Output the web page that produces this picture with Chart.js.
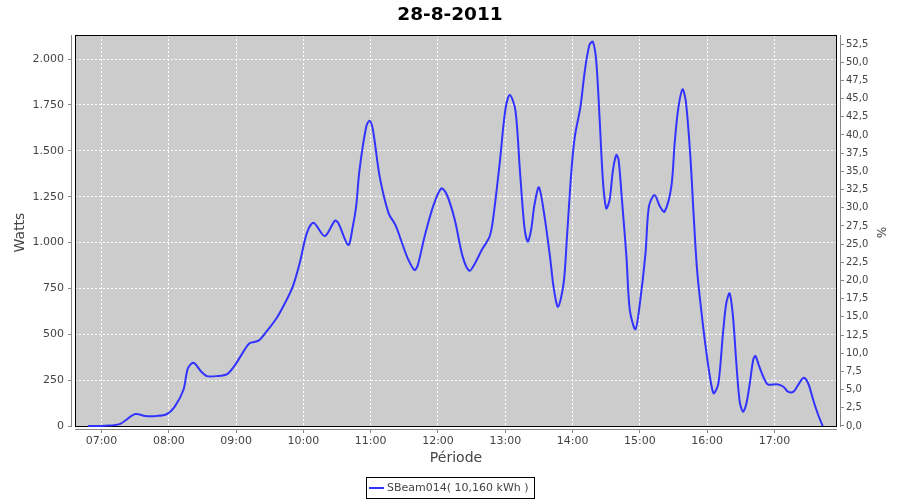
<!DOCTYPE html>
<html>
<head>
<meta charset="utf-8">
<script src="https://cdn.jsdelivr.net/npm/chart.js@4.4.0/dist/chart.umd.min.js"></script>
<style>
  html, body { margin: 0; padding: 0; background: #fff; }
  canvas { display: block; }
</style>
</head>
<body>
<canvas id="grafico" width="900" height="500"></canvas>
<script>
const titulo = '28-8-2011';
const serie = 'SBeam014( 10,160 kWh )';

// hora de la muestra y potencia en W
const horas = [
  '06:48', '07:03', '07:16', '07:30', '07:39', '07:49', '07:58', '08:05', '08:13', '08:17',
  '08:22', '08:29', '08:34', '08:43', '08:52', '08:59', '09:06', '09:12', '09:20', '09:27',
  '09:36', '09:45', '09:51', '09:57', '10:03', '10:09', '10:19', '10:28', '10:31', '10:40',
  '10:44', '10:47', '10:50', '10:56', '10:59', '11:02', '11:08', '11:16', '11:22', '11:28',
  '11:33', '11:39', '11:42', '11:48', '11:56', '12:03', '12:08', '12:15', '12:22', '12:28',
  '12:33', '12:39', '12:46', '12:49', '12:55', '13:00', '13:04', '13:09', '13:13', '13:17',
  '13:20', '13:23', '13:26', '13:30', '13:35', '13:40', '13:43', '13:47', '13:52', '13:55',
  '13:59', '14:02', '14:07', '14:11', '14:15', '14:18', '14:21', '14:24', '14:27', '14:30',
  '14:33', '14:36', '14:39', '14:41', '14:44', '14:48', '14:51', '14:56', '15:00', '15:05',
  '15:08', '15:13', '15:18', '15:22', '15:28', '15:31', '15:34', '15:38', '15:41', '15:45',
  '15:48', '15:51', '15:55', '16:00', '16:04', '16:06', '16:10', '16:14', '16:17', '16:20',
  '16:23', '16:26', '16:29', '16:32', '16:35', '16:38', '16:41', '16:43', '16:46', '16:50',
  '16:54', '17:02', '17:08', '17:12', '17:17', '17:21', '17:26', '17:30', '17:35', '17:39',
  '17:43'
];
const watts = [
  0, 2, 10, 65, 55, 55, 64, 103, 196, 314,
  345, 296, 272, 272, 283, 332, 400, 451, 465, 514,
  587, 687, 768, 895, 1050, 1108, 1035, 1119, 1108, 986,
  1086, 1195, 1395, 1631, 1664, 1613, 1359, 1159, 1096, 996,
  914, 850, 877, 1032, 1204, 1295, 1259, 1123, 923, 846,
  887, 959, 1032, 1123, 1432, 1722, 1804, 1722, 1395, 1086,
  1005, 1068, 1205, 1301, 1141, 915, 759, 650, 778, 1032,
  1395, 1577, 1740, 1940, 2076, 2095, 1995, 1686, 1341, 1186,
  1232, 1395, 1477, 1450, 1232, 923, 632, 527, 669, 941,
  1195, 1259, 1195, 1168, 1304, 1541, 1722, 1835, 1768, 1468,
  1141, 850, 614, 369, 214, 178, 233, 500, 669, 723,
  596, 342, 132, 78, 124, 233, 360, 382, 332, 269,
  227, 227, 214, 187, 187, 223, 263, 233, 132, 60,
  0
];

const aMinutos = t => { const [h, m] = t.split(':').map(Number); return h * 60 + m; };
const dos = n => String(n).padStart(2, '0');

const fuente = 'DejaVu Sans';
const gris = '#444444';
const lineaEje = '#888888';

const fondoPlot = {
  id: 'fondoPlot',
  beforeDraw(chart) {
    const {ctx, chartArea: a, scales} = chart;
    const abajo = Math.round(scales.y.getPixelForValue(0));
    ctx.save();
    ctx.fillStyle = '#ffffff';
    ctx.fillRect(0, 0, chart.width, chart.height);
    ctx.fillStyle = '#cccccc';
    ctx.fillRect(a.left + 4, a.top, a.right - a.left - 8, abajo - a.top);
    ctx.restore();
  },
  beforeDatasetsDraw(chart) {
    const {ctx, chartArea: a, scales} = chart;
    const abajo = Math.round(scales.y.getPixelForValue(0));
    ctx.save();
    ctx.lineWidth = 1;
    ctx.strokeStyle = '#000000';
    ctx.strokeRect(a.left + 4.5, a.top + 0.5, a.right - a.left - 9, abajo - a.top);
    ctx.strokeStyle = lineaEje;
    ctx.beginPath();
    ctx.moveTo(a.left + 0.5, a.top);
    ctx.lineTo(a.left + 0.5, abajo + 1);
    ctx.moveTo(a.right - 0.5, a.top);
    ctx.lineTo(a.right - 0.5, abajo + 1);
    ctx.moveTo(a.left + 4, a.bottom - 0.5);
    ctx.lineTo(a.right - 4, a.bottom - 0.5);
    ctx.stroke();
    ctx.restore();
  },
  afterDraw(chart) {
    const {ctx} = chart;
    const ds = chart.data.datasets[0];
    ctx.save();
    ctx.font = '11px "' + fuente + '"';
    const tw = ctx.measureText(ds.label).width;
    const w = Math.round(tw + 26);
    const x0 = Math.round(450 - w / 2) + 0.5;
    ctx.strokeStyle = '#000000';
    ctx.lineWidth = 1;
    ctx.strokeRect(x0, 477.5, w, 21);
    ctx.strokeStyle = ds.borderColor;
    ctx.lineWidth = 2;
    ctx.beginPath();
    ctx.moveTo(x0 + 2.5, 488);
    ctx.lineTo(x0 + 17.5, 488);
    ctx.stroke();
    ctx.fillStyle = gris;
    ctx.textBaseline = 'middle';
    ctx.fillText(ds.label, x0 + 20.5, 488.5);
    ctx.restore();
  }
};

const datos = horas.map((h, i) => ({x: aMinutos(h), y: watts[i]}));

new Chart(document.getElementById('grafico'), {
  type: 'line',
  data: {
    datasets: [{
      label: serie,
      data: datos,
      borderColor: '#3333ff',
      borderWidth: 2,
      pointRadius: 0,
      tension: 0.3,
      fill: false,
      yAxisID: 'y'
    }]
  },
  options: {
    responsive: false,
    animation: false,
    layout: { padding: { left: 0, right: 0, top: 0, bottom: 30 } },
    plugins: {
      legend: { display: false },
      tooltip: { enabled: false },
      title: {
        display: true,
        text: titulo,
        color: '#000000',
        font: { family: fuente, size: 18.5, weight: 'bold' },
        padding: { top: 4, bottom: 8.8 }
      }
    },
    scales: {
      x: {
        type: 'linear',
        min: 392.8,
        max: 1079.3,
        afterFit: s => { s.height = 40; },
        grid: { color: '#ffffff', tickColor: lineaEje, tickLength: 3 },
        border: { display: false, dash: [2, 2] },
        ticks: {
          stepSize: 60,
          includeBounds: false,
          autoSkip: false,
          maxRotation: 0,
          padding: 2,
          color: gris,
          font: { family: fuente, size: 11 },
          callback: v => dos(Math.floor(v / 60)) + ':' + dos(v % 60)
        },
        title: {
          display: true,
          text: 'Période',
          color: gris,
          font: { family: fuente, size: 14 },
          padding: { top: 0, bottom: 3.6 }
        }
      },
      y: {
        position: 'left',
        min: -21.8,
        max: 2131,
        afterFit: s => { s.width = 71; },
        grid: { color: '#ffffff', tickColor: lineaEje, tickLength: 3 },
        border: { display: false, dash: [2, 2] },
        ticks: {
          stepSize: 250,
          includeBounds: false,
          padding: 4,
          color: gris,
          font: { family: fuente, size: 11 },
          callback: v => String(v).replace(/\B(?=(\d{3})+(?!\d))/g, '.')
        },
        title: {
          display: true,
          text: 'Watts',
          color: gris,
          font: { family: fuente, size: 14 },
          padding: { top: 11.6, bottom: 0 }
        }
      },
      y1: {
        type: 'linear',
        position: 'right',
        min: -0.55,
        max: 53.74,
        afterFit: s => { s.width = 59; },
        grid: { drawOnChartArea: false, tickColor: lineaEje, tickLength: 3 },
        border: { display: false },
        ticks: {
          stepSize: 2.5,
          includeBounds: false,
          padding: 2,
          color: gris,
          font: { family: fuente, size: 10 },
          callback: v => v.toFixed(1).replace('.', ',')
        },
        title: {
          display: true,
          text: '%',
          color: gris,
          font: { family: fuente, size: 12 },
          padding: { top: 12.8, bottom: 0 }
        }
      }
    }
  },
  plugins: [fondoPlot]
});
</script>
</body>
</html>
